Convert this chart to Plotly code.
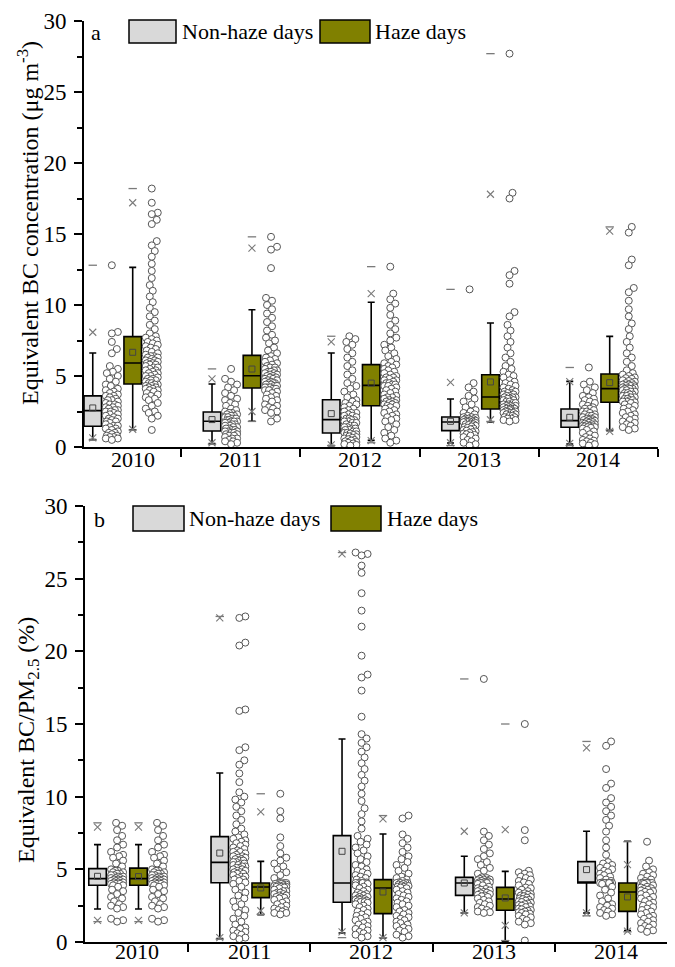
import plotly.graph_objects as go

W, H = 675, 967
FONT = "Liberation Serif"

years = ["2010", "2011", "2012", "2013", "2014"]

# ---------------- Panel a: Equivalent BC concentration ----------------
a_non_q1 = [1.46, 1.13, 0.99, 1.15, 1.39]
a_non_med = [2.56, 1.81, 1.93, 1.76, 1.86]
a_non_q3 = [3.60, 2.46, 3.33, 2.11, 2.68]
a_non_lo = [0.52, 0.24, 0.10, 0.28, 0.21]
a_non_hi = [6.62, 4.44, 6.62, 3.38, 4.62]
a_non_mean = [2.75, 1.93, 2.35, 1.81, 2.09]
a_non_p1 = [0.65, 0.30, 0.15, 0.30, 0.25]
a_non_p99 = [8.08, 4.79, 7.40, 4.55, 4.60]

a_haze_q1 = [4.44, 4.15, 2.91, 2.68, 3.15]
a_haze_med = [5.92, 5.02, 4.34, 3.52, 4.11]
a_haze_q3 = [7.77, 6.45, 5.80, 5.09, 5.14]
a_haze_lo = [1.22, 1.81, 0.47, 1.76, 1.15]
a_haze_hi = [12.65, 9.67, 10.19, 8.73, 7.79]
a_haze_mean = [6.67, 5.49, 4.50, 4.58, 4.53]
a_haze_p1 = [1.25, 2.50, 0.45, 1.92, 1.10]
a_haze_p99 = [17.2, 14.0, 10.8, 17.8, 15.2]

a_non_2010 = [12.8, 8.1, 8.0, 7.4, 6.9, 6.6, 5.7, 5.5, 5.3, 5.2, 5.0, 4.8, 4.6, 4.4, 4.3, 4.1, 4.0, 3.9,
              3.8, 3.7, 3.6, 3.6, 3.5, 3.4, 3.3, 3.3, 3.2, 3.1, 3.0, 3.0, 2.9, 2.8, 2.8, 2.7, 2.6, 2.6,
              2.5, 2.5, 2.4, 2.3, 2.3, 2.2, 2.1, 2.0, 2.0, 1.9, 1.8, 1.8, 1.7, 1.6, 1.5, 1.5, 1.4, 1.3,
              1.3, 1.2, 1.1, 1.0, 1.0, 0.9, 0.8, 0.8, 0.7, 0.7, 0.6, 0.6, 0.5]
a_haze_2010 = [18.2, 17.2, 16.5, 16.4, 16.0, 15.7, 14.5, 14.2, 13.8, 13.4, 12.9, 12.4, 11.9, 11.4, 11.0,
               10.6, 10.2, 9.8, 9.5, 9.2, 8.9, 8.6, 8.3, 8.0,
               7.8, 7.7, 7.6, 7.5, 7.4, 7.3, 7.2, 7.1, 7.0, 6.9, 6.8, 6.7, 6.6, 6.5, 6.4, 6.4, 6.3, 6.3,
               6.2, 6.1, 6.1, 6.0, 6.0, 5.9,
               5.9, 5.8, 5.8, 5.7, 5.6, 5.6, 5.5, 5.4, 5.4, 5.3, 5.2, 5.2, 5.1, 5.0, 5.0, 4.9, 4.8, 4.8,
               4.7, 4.7, 4.6, 4.5, 4.5, 4.4,
               4.4, 4.3, 4.3, 4.2, 4.2, 4.1, 4.1, 4.0, 4.0, 3.9, 3.8, 3.7, 3.6, 3.5, 3.4, 3.3, 3.1, 2.9,
               2.7, 2.5, 2.4, 2.2, 2.0, 1.2]
a_non_2011 = [5.5, 4.8, 4.6, 4.4, 4.2, 4.0, 3.8, 3.6, 3.4, 3.3, 3.1, 3.0, 2.9, 2.7, 2.6,
              2.5, 2.4, 2.4, 2.3, 2.3, 2.2, 2.2, 2.1, 2.1, 2.0, 2.0, 1.9, 1.9, 1.8, 1.8,
              1.8, 1.7, 1.7, 1.6, 1.6, 1.5, 1.5, 1.4, 1.4, 1.3, 1.3, 1.2, 1.2, 1.1, 1.1,
              1.1, 1.0, 1.0, 0.9, 0.9, 0.8, 0.8, 0.7, 0.6, 0.6, 0.5, 0.4, 0.4, 0.3, 0.2]
a_haze_2011 = [14.8, 14.1, 13.9, 12.6, 10.5, 10.3, 10.0, 9.7, 9.4, 9.1, 8.8, 8.5, 8.2, 7.9, 7.7, 7.5, 7.3,
               7.0, 6.8, 6.6,
               6.4, 6.3, 6.2, 6.1, 6.0, 5.9, 5.8, 5.7, 5.6, 5.6, 5.5, 5.4, 5.4, 5.3, 5.3, 5.2, 5.2, 5.1,
               5.1, 5.0,
               5.0, 4.9, 4.9, 4.8, 4.8, 4.7, 4.7, 4.6, 4.6, 4.5, 4.5, 4.5, 4.4, 4.4, 4.3, 4.3, 4.2, 4.2,
               4.2, 4.1,
               4.1, 4.0, 4.0, 3.9, 3.8, 3.7, 3.6, 3.5, 3.4, 3.3, 3.2, 3.0, 2.9, 2.8, 2.7, 2.6, 2.5, 2.4,
               2.0, 1.8]
a_non_2012 = [7.8, 7.6, 7.4, 7.2, 6.9, 6.6, 6.3, 6.0, 5.7, 5.4, 5.1, 4.8, 4.5, 4.3, 4.1, 3.9, 3.7, 3.5,
              3.3, 3.2, 3.1, 3.0, 2.9, 2.8, 2.7, 2.6, 2.5, 2.4, 2.4, 2.3, 2.2, 2.2, 2.1, 2.0, 2.0, 1.9,
              1.9, 1.8, 1.8, 1.7, 1.7, 1.6, 1.5, 1.5, 1.4, 1.4, 1.3, 1.3, 1.2, 1.2, 1.1, 1.1, 1.0, 1.0,
              0.95, 0.9, 0.85, 0.8, 0.75, 0.7, 0.65, 0.6, 0.55, 0.5, 0.45, 0.4, 0.35, 0.3, 0.25, 0.2,
              0.15, 0.1]
a_haze_2012 = [12.7, 10.8, 10.4, 10.1, 9.8, 9.3, 8.9, 8.6, 8.3, 8.0, 7.7, 7.5, 7.2, 7.0, 6.8, 6.6, 6.4,
               6.2, 6.0, 5.9,
               5.8, 5.7, 5.6, 5.5, 5.4, 5.3, 5.2, 5.1, 5.0, 4.9, 4.9, 4.8, 4.7, 4.7, 4.6, 4.5, 4.5, 4.4,
               4.4, 4.3,
               4.3, 4.2, 4.1, 4.0, 3.9, 3.8, 3.7, 3.6, 3.5, 3.5, 3.4, 3.3, 3.3, 3.2, 3.2, 3.1, 3.1, 3.0,
               3.0, 2.9,
               2.9, 2.8, 2.7, 2.6, 2.5, 2.4, 2.3, 2.2, 2.1, 2.0, 1.9, 1.8, 1.6, 1.4, 1.2, 1.0, 0.8, 0.6,
               0.45, 0.3]
a_non_2013 = [11.1, 4.5, 4.2, 3.9, 3.6, 3.4, 3.2, 3.0, 2.8, 2.6, 2.5, 2.4, 2.3, 2.2,
              2.1, 2.1, 2.05, 2.0, 2.0, 1.95, 1.9, 1.9, 1.85, 1.85, 1.8, 1.8, 1.8, 1.75,
              1.75, 1.7, 1.65, 1.6, 1.6, 1.55, 1.5, 1.45, 1.4, 1.35, 1.3, 1.25, 1.2, 1.15,
              1.1, 1.05, 1.0, 0.95, 0.9, 0.85, 0.8, 0.7, 0.6, 0.5, 0.4, 0.3, 0.2, 0.1]
a_haze_2013 = [27.7, 17.9, 17.5, 12.4, 12.1, 11.5, 9.5, 9.2, 8.6, 8.2, 7.8, 7.4, 7.0, 6.6, 6.3, 6.0, 5.7,
               5.5, 5.3, 5.1,
               5.0, 4.9, 4.7, 4.6, 4.5, 4.4, 4.3, 4.2, 4.1, 4.0, 3.9, 3.9, 3.8, 3.8, 3.7, 3.7, 3.6, 3.6,
               3.5, 3.5,
               3.5, 3.4, 3.4, 3.3, 3.3, 3.2, 3.2, 3.1, 3.1, 3.0, 3.0, 2.9, 2.9, 2.9, 2.8, 2.8, 2.8, 2.7,
               2.7, 2.7,
               2.6, 2.6, 2.6, 2.5, 2.5, 2.5, 2.4, 2.4, 2.4, 2.3, 2.3, 2.2, 2.2, 2.1, 2.1, 2.0, 2.0, 1.9,
               1.9, 1.8]
a_non_2014 = [5.6, 4.6, 4.4, 4.2, 4.0, 3.8, 3.6, 3.5, 3.4, 3.3, 3.2, 3.1, 3.0, 2.9, 2.8, 2.7,
              2.7, 2.6, 2.5, 2.5, 2.4, 2.3, 2.3, 2.2, 2.2, 2.1, 2.1, 2.0, 2.0, 1.95, 1.9, 1.9,
              1.85, 1.8, 1.8, 1.75, 1.7, 1.7, 1.65, 1.6, 1.6, 1.55, 1.5, 1.5, 1.45, 1.45, 1.4, 1.4,
              1.35, 1.3, 1.2, 1.1, 1.0, 0.9, 0.8, 0.7, 0.6, 0.5, 0.45, 0.4, 0.3, 0.25, 0.2, 0.1]
a_haze_2014 = [15.5, 15.1, 13.2, 12.8, 11.2, 10.9, 10.3, 9.7, 9.2, 8.7, 8.3, 7.8, 7.4, 7.0, 6.6, 6.3, 6.0,
               5.7, 5.4, 5.2,
               5.1, 5.0, 4.9, 4.85, 4.8, 4.7, 4.65, 4.6, 4.5, 4.5, 4.4, 4.4, 4.35, 4.3, 4.3, 4.2, 4.2,
               4.15, 4.1, 4.1,
               4.1, 4.0, 4.0, 3.9, 3.9, 3.8, 3.8, 3.7, 3.7, 3.6, 3.6, 3.5, 3.5, 3.4, 3.4, 3.3, 3.3, 3.2,
               3.2, 3.15,
               3.1, 3.0, 2.9, 2.8, 2.7, 2.6, 2.5, 2.4, 2.3, 2.2, 2.1, 2.0, 1.9, 1.8, 1.7, 1.6, 1.5, 1.4,
               1.3, 1.2]

# ---------------- Panel b: Equivalent BC / PM2.5 ----------------
b_non_q1 = [3.90, 4.08, 2.73, 3.21, 4.06]
b_non_med = [4.36, 5.48, 4.06, 4.06, 4.06]
b_non_q3 = [5.05, 7.25, 7.32, 4.45, 5.53]
b_non_lo = [2.27, 0.23, 0.62, 2.00, 2.00]
b_non_hi = [6.70, 11.63, 13.97, 5.90, 7.62]
b_non_mean = [4.52, 6.12, 6.24, 4.06, 4.98]
b_non_p1 = [1.49, 0.30, 0.70, 2.00, 2.00]
b_non_p99 = [7.91, 22.3, 26.7, 7.62, 13.35]

b_haze_q1 = [3.90, 3.05, 1.95, 2.18, 2.11]
b_haze_med = [4.36, 3.78, 3.72, 2.96, 3.44]
b_haze_q3 = [5.08, 4.06, 4.29, 3.76, 4.06]
b_haze_lo = [2.27, 1.88, 0.28, 0.05, 0.78]
b_haze_hi = [6.70, 5.55, 7.43, 4.86, 6.93]
b_haze_mean = [4.50, 3.72, 3.44, 3.03, 3.10]
b_haze_p1 = [1.49, 2.15, 0.30, 1.15, 0.75]
b_haze_p99 = [7.91, 8.95, 8.47, 7.73, 5.32]

b_non_2010 = [8.2, 8.0, 7.7, 7.3, 7.0, 6.7, 6.5, 6.2, 6.0, 5.9, 5.8, 5.6, 5.4, 5.2,
              5.0, 4.9, 4.9, 4.8, 4.8, 4.7, 4.7, 4.6, 4.6, 4.5, 4.5, 4.4, 4.4, 4.4,
              4.3, 4.3, 4.3, 4.2, 4.2, 4.2, 4.1, 4.1, 4.1, 4.0, 4.0, 4.0, 3.9, 3.9,
              3.8, 3.6, 3.5, 3.3, 3.1, 3.0, 2.8, 2.6, 2.5, 2.4, 2.3, 1.6, 1.5, 1.4]
b_haze_2010 = [8.2, 8.0, 7.7, 7.3, 7.0, 6.7, 6.5, 6.2, 6.0, 5.9, 5.8, 5.6, 5.4, 5.2,
               5.0, 4.9, 4.9, 4.8, 4.8, 4.7, 4.7, 4.6, 4.6, 4.5, 4.5, 4.4, 4.4, 4.4,
               4.3, 4.3, 4.3, 4.2, 4.2, 4.2, 4.1, 4.1, 4.1, 4.0, 4.0, 4.0, 3.9, 3.9,
               3.8, 3.6, 3.5, 3.3, 3.1, 3.0, 2.8, 2.6, 2.5, 2.4, 2.3, 1.6, 1.5, 1.4]
b_non_2011 = [22.4, 22.3, 20.6, 20.4, 16.0, 15.9, 13.4, 13.2, 12.5, 12.2, 11.6, 11.0, 10.3, 10.0, 9.8,
              9.6, 9.3, 9.0, 8.7, 8.4, 8.1, 7.8, 7.6, 7.4,
              7.2, 7.1, 7.0, 6.9, 6.8, 6.7, 6.6, 6.5, 6.4, 6.3, 6.2, 6.2, 6.1, 6.0, 5.9, 5.9, 5.8, 5.8,
              5.7, 5.7, 5.6, 5.6, 5.5, 5.5,
              5.4, 5.4, 5.3, 5.3, 5.2, 5.2, 5.1, 5.1, 5.0, 5.0, 4.9, 4.9, 4.8, 4.8, 4.7, 4.7, 4.6, 4.5,
              4.5, 4.4, 4.3, 4.3, 4.2, 4.1,
              4.0, 3.8, 3.6, 3.4, 3.2, 3.0, 2.8, 2.6, 2.4, 2.2, 2.0, 1.8, 1.6, 1.4, 1.2, 1.0, 0.9, 0.8,
              0.7, 0.6, 0.5, 0.4, 0.3, 0.2]
b_haze_2011 = [10.2, 9.0, 8.5, 7.2, 6.6, 6.1, 5.8, 5.6, 5.4, 5.2, 5.0, 4.8, 4.6, 4.4,
               4.06, 4.06, 4.06, 4.06, 4.0, 4.0, 3.95, 3.9, 3.9, 3.85, 3.85, 3.8, 3.8, 3.8,
               3.75, 3.7, 3.6, 3.5, 3.5, 3.4, 3.4, 3.3, 3.3, 3.2, 3.2, 3.1, 3.1, 3.05,
               3.0, 2.9, 2.8, 2.7, 2.6, 2.5, 2.4, 2.3, 2.2, 2.2, 2.1, 2.0, 2.0, 1.9]
b_non_2012 = [26.8, 26.7, 26.6, 25.9, 25.4, 24.0, 22.8, 21.7, 19.7, 18.4, 18.2, 17.3, 15.5, 14.3, 14.0,
              13.7, 13.4, 13.1, 12.7, 12.3, 11.9, 11.5, 11.1, 10.7, 10.2, 9.7, 9.2, 8.8, 8.3, 7.8,
              7.3, 7.1, 6.9, 6.7, 6.5, 6.3, 6.1, 5.9, 5.7, 5.5, 5.3, 5.2, 5.0, 4.9, 4.8, 4.7, 4.6,
              4.5, 4.4, 4.3, 4.2, 4.1, 4.06, 4.06, 4.06,
              4.06, 4.06, 4.0, 3.9, 3.8, 3.7, 3.6, 3.5, 3.4, 3.3, 3.3, 3.2, 3.2, 3.1, 3.1, 3.0, 3.0,
              2.95, 2.9, 2.9, 2.85, 2.8, 2.8, 2.75, 2.75,
              2.7, 2.6, 2.5, 2.4, 2.3, 2.2, 2.1, 2.0, 1.9, 1.8, 1.7, 1.6, 1.5, 1.4, 1.3, 1.2, 1.1,
              1.0, 0.9, 0.8, 0.7, 0.6, 0.5, 0.4, 0.3]
b_haze_2012 = [8.7, 8.5, 7.4, 7.1, 6.8, 6.5, 6.2, 5.9, 5.7, 5.5, 5.3, 5.1, 4.9, 4.7, 4.5, 4.4,
               4.3, 4.2, 4.1, 4.06, 4.06, 4.06, 4.06, 4.0, 3.95, 3.9, 3.9, 3.85, 3.8, 3.8, 3.75, 3.7,
               3.6, 3.5, 3.4, 3.3, 3.2, 3.1, 3.0, 2.9, 2.8, 2.7, 2.6, 2.5, 2.4, 2.2, 2.1, 2.0,
               1.9, 1.8, 1.7, 1.6, 1.5, 1.4, 1.3, 1.2, 1.1, 1.0, 0.9, 0.8, 0.7, 0.5, 0.4, 0.3]
b_non_2013 = [18.1, 7.6, 7.3, 7.0, 6.7, 6.4, 6.1, 5.9, 5.7, 5.5, 5.3, 5.1, 4.9, 4.7,
              4.45, 4.4, 4.35, 4.3, 4.3, 4.25, 4.2, 4.2, 4.15, 4.1, 4.1, 4.1, 4.06, 4.06,
              4.0, 3.9, 3.8, 3.7, 3.65, 3.6, 3.55, 3.5, 3.45, 3.4, 3.35, 3.3, 3.25, 3.2,
              3.15, 3.1, 3.0, 2.9, 2.8, 2.7, 2.6, 2.5, 2.4, 2.3, 2.2, 2.1, 2.05, 2.0]
b_haze_2013 = [15.0, 7.7, 7.0, 4.9, 4.8, 4.7, 4.6, 4.5, 4.4, 4.3, 4.2, 4.1, 4.0, 3.9,
               3.75, 3.7, 3.6, 3.5, 3.4, 3.35, 3.3, 3.25, 3.2, 3.15, 3.1, 3.05, 3.0, 2.95,
               2.9, 2.85, 2.8, 2.75, 2.7, 2.65, 2.6, 2.55, 2.5, 2.45, 2.4, 2.3, 2.25, 2.2,
               2.15, 2.1, 2.05, 2.0, 1.95, 1.9, 1.8, 1.7, 1.6, 1.5, 1.4, 1.3, 1.2, 0.1]
b_non_2014 = [13.8, 13.5, 11.9, 10.9, 10.6, 9.9, 9.6, 9.3, 9.0, 8.7, 8.4, 8.0, 7.6, 7.0, 6.5, 6.0,
              5.5, 5.4, 5.3, 5.2, 5.1, 5.0, 4.9, 4.8, 4.7, 4.6, 4.5, 4.4, 4.3, 4.2, 4.1, 4.06,
              4.06, 4.06, 4.06, 4.06, 4.06, 4.06, 4.06, 4.06, 4.06,
              4.0, 3.8, 3.6, 3.4, 3.2, 3.0, 2.8, 2.6, 2.5, 2.4, 2.3, 2.2, 2.1, 2.0, 1.9, 1.8]
b_haze_2014 = [6.9, 5.6, 5.2, 5.0, 4.8, 4.7, 4.6, 4.5, 4.4, 4.3, 4.2, 4.1, 4.06, 4.06,
               4.06, 4.06, 4.06, 4.06, 4.0, 3.9, 3.8, 3.75, 3.7, 3.65, 3.6, 3.55, 3.5, 3.45,
               3.4, 3.3, 3.2, 3.1, 3.0, 2.9, 2.8, 2.7, 2.6, 2.5, 2.4, 2.3, 2.2, 2.1,
               2.0, 1.9, 1.8, 1.7, 1.6, 1.5, 1.4, 1.3, 1.2, 1.1, 1.0, 0.9, 0.8, 0.7]

a_non_pts = [a_non_2010, a_non_2011, a_non_2012, a_non_2013, a_non_2014]
a_haze_pts = [a_haze_2010, a_haze_2011, a_haze_2012, a_haze_2013, a_haze_2014]
b_non_pts = [b_non_2010, b_non_2011, b_non_2012, b_non_2013, b_non_2014]
b_haze_pts = [b_haze_2010, b_haze_2011, b_haze_2012, b_haze_2013, b_haze_2014]

# ---------------- styling / geometry ----------------
GREY = "#d9d9d9"
OLIVE = "#808000"
PT_EDGE = "#555555"
MARK = "#7a7a7a"


def X(px):
    return px / W


def Y(py):
    return 1 - py / H


# panel pixel geometry
panels = {
    "a": dict(left=76, right=650, cat=119.25, top=13, bottom=439, xa="x", ya="y", lab_shift=-12),
    "b": dict(left=77, right=669, cat=122.25, top=498, bottom=934, xa="x2", ya="y2", lab_shift=-9),
}
OFF_NON_BOX, OFF_NON_PTS, OFF_HAZE_BOX, OFF_HAZE_PTS = -0.24, -0.08, 0.095, 0.255


def swarm(vals, ypx, xpx, d=6.2, maxw=6.0, step=1.0):
    """Deterministic beeswarm offsets (in data units of x)."""
    order = sorted(range(len(vals)), key=lambda i: vals[i])
    cands = [0.0]
    k = 1
    while k * step <= maxw:
        cands += [k * step, -k * step]
        k += 1
    placed = []
    offs = [0.0] * len(vals)
    for i in order:
        y = vals[i] * ypx
        near = [(px, py) for px, py in placed if abs(py - y) < d]
        best, bestscore = 0.0, -1.0
        for c in cands:
            md = min([((c - px) ** 2 + (y - py) ** 2) ** 0.5 for px, py in near], default=1e9)
            if md >= d:
                best = c
                break
            if md > bestscore:
                bestscore, best = md, c
        offs[i] = best / xpx
        placed.append((best, y))
    return offs


fig = go.Figure()

groups = [
    ("a", a_non_q1, a_non_med, a_non_q3, a_non_lo, a_non_hi, a_non_mean, a_non_p1, a_non_p99, a_non_pts,
     GREY, OFF_NON_BOX, OFF_NON_PTS),
    ("a", a_haze_q1, a_haze_med, a_haze_q3, a_haze_lo, a_haze_hi, a_haze_mean, a_haze_p1, a_haze_p99,
     a_haze_pts, OLIVE, OFF_HAZE_BOX, OFF_HAZE_PTS),
    ("b", b_non_q1, b_non_med, b_non_q3, b_non_lo, b_non_hi, b_non_mean, b_non_p1, b_non_p99, b_non_pts,
     GREY, OFF_NON_BOX, OFF_NON_PTS),
    ("b", b_haze_q1, b_haze_med, b_haze_q3, b_haze_lo, b_haze_hi, b_haze_mean, b_haze_p1, b_haze_p99,
     b_haze_pts, OLIVE, OFF_HAZE_BOX, OFF_HAZE_PTS),
]

for (pn, q1, med, q3, lo, hi, mean, p1, p99, pts, col, obox, opts) in groups:
    P = panels[pn]
    ypx = (P["bottom"] - P["top"]) / 30.0
    centers = [i + 1 for i in range(len(years))]
    bx = [c + obox for c in centers]
    fig.add_trace(go.Box(
        x=bx, q1=q1, median=med, q3=q3, lowerfence=lo, upperfence=hi,
        orientation="v", boxpoints=False, fillcolor=col,
        line=dict(color="black", width=1.6), width=17.5 / P["cat"], whiskerwidth=0.4,
        xaxis=P["xa"], yaxis=P["ya"], showlegend=False, hoverinfo="skip"))
    # scatter points (swarm)
    sx, sy = [], []
    for c, vals in zip(centers, pts):
        offs = swarm(vals, ypx, P["cat"])
        sx += [c + opts + o for o in offs]
        sy += vals
    fig.add_trace(go.Scatter(
        x=sx, y=sy, mode="markers", xaxis=P["xa"], yaxis=P["ya"], showlegend=False, hoverinfo="skip",
        marker=dict(symbol="circle", size=7, color="white", line=dict(color=PT_EDGE, width=1))))
    # 1% / 99% crosses
    fig.add_trace(go.Scatter(
        x=bx + bx, y=p1 + p99, mode="markers", xaxis=P["xa"], yaxis=P["ya"], showlegend=False,
        hoverinfo="skip",
        marker=dict(symbol="x-thin-open", size=7, color=MARK, line=dict(color=MARK, width=1.1))))
    # min / max dashes
    fig.add_trace(go.Scatter(
        x=bx + bx, y=[min(v) for v in pts] + [max(v) for v in pts], mode="markers",
        xaxis=P["xa"], yaxis=P["ya"], showlegend=False, hoverinfo="skip",
        marker=dict(symbol="line-ew-open", size=6, color=MARK, line=dict(color=MARK, width=1.3))))
    # mean squares
    fig.add_trace(go.Scatter(
        x=bx, y=mean, mode="markers", xaxis=P["xa"], yaxis=P["ya"], showlegend=False, hoverinfo="skip",
        marker=dict(symbol="square-open", size=6, color="#444444", line=dict(color="#444444", width=1))))

axis_font = dict(family=FONT, size=22, color="black")
ytick_font = dict(family=FONT, size=23, color="black")
fig.update_layout(
    width=W, height=H, plot_bgcolor="white", paper_bgcolor="white",
    margin=dict(l=0, r=0, t=0, b=0), showlegend=False,
    font=dict(family=FONT, size=22, color="black"),
)

for pn, P in panels.items():
    xstart = 5.5 - (P["right"] - P["left"]) / P["cat"]
    xkey = "xaxis" if P["xa"] == "x" else "xaxis2"
    ykey = "yaxis" if P["ya"] == "y" else "yaxis2"
    fig.update_layout(**{
        xkey: dict(domain=[X(P["left"]), X(P["right"])], range=[xstart, 5.5], anchor=P["ya"],
                   showline=True, linecolor="black", linewidth=2, showgrid=False, zeroline=False,
                   tickmode="array", tickvals=[1.5, 2.5, 3.5, 4.5, 5.5], showticklabels=False,
                   ticks="outside", ticklen=8, tickwidth=2, tickcolor="black", automargin=False),
        ykey: dict(domain=[Y(P["bottom"]), Y(P["top"])], range=[0, 30], anchor=P["xa"],
                   showline=True, linecolor="black", linewidth=2, showgrid=False, zeroline=False,
                   tickmode="array", tickvals=[0, 5, 10, 15, 20, 25, 30], ticks="outside", ticklen=8,
                   tickwidth=2, tickcolor="black", tickfont=ytick_font, automargin=False,
                   ticklabelstandoff=3,
                   minor=dict(tickvals=[2.5, 7.5, 12.5, 17.5, 22.5, 27.5], ticks="outside", ticklen=5,
                              tickwidth=1.5, tickcolor="black", showgrid=False)),
    })
    # year labels centred in each visible category segment
    for i, yr in enumerate(years):
        seg0 = max(xstart, i + 0.5)
        seg1 = i + 1.5
        mid = (seg0 + seg1) / 2
        fig.add_annotation(x=mid, y=0, xref=P["xa"], yref=P["ya"], text=yr, showarrow=False,
                           yanchor="middle", yshift=P["lab_shift"], font=axis_font)

# axis titles
fig.add_annotation(x=X(20), y=Y((13 + 439) / 2 - 11), xref="paper", yref="paper", textangle=-90,
                   text="Equivalent BC concentration (μg m<sup>-3</sup>)", showarrow=False,
                   font=dict(family=FONT, size=24), xanchor="center", yanchor="middle")
fig.add_annotation(x=X(20), y=Y((498 + 934) / 2 + 16), xref="paper", yref="paper", textangle=-90,
                   text="Equivalent BC/PM<sub>2.5</sub> (%)", showarrow=False,
                   font=dict(family=FONT, size=24), xanchor="center", yanchor="middle")

# panel letters and legends
legend_specs = [
    ("a", 81, 24, (121, 12, 168, 35), 172, (312, 12, 362, 35), 365),
    ("b", 84, 511, (125, 498, 176, 523), 179, (323, 498, 373, 523), 377),
]
for letter, lx, ly, grect, gtx, orect, otx in legend_specs:
    fig.add_annotation(x=X(lx), y=Y(ly), xref="paper", yref="paper", text=letter, showarrow=False,
                       xanchor="left", yanchor="middle", font=dict(family=FONT, size=22))
    for rect, colr, tx, label in [(grect, GREY, gtx, "Non-haze days"), (orect, OLIVE, otx, "Haze days")]:
        fig.add_shape(type="rect", xref="paper", yref="paper", x0=X(rect[0]), x1=X(rect[2]),
                      y0=Y(rect[3]), y1=Y(rect[1]), fillcolor=colr, line=dict(color="black", width=1.5))
        fig.add_annotation(x=X(tx), y=Y((rect[1] + rect[3]) / 2), xref="paper", yref="paper", text=label,
                           showarrow=False, xanchor="left", yanchor="middle",
                           font=dict(family=FONT, size=22))

fig.write_html("out.html")
